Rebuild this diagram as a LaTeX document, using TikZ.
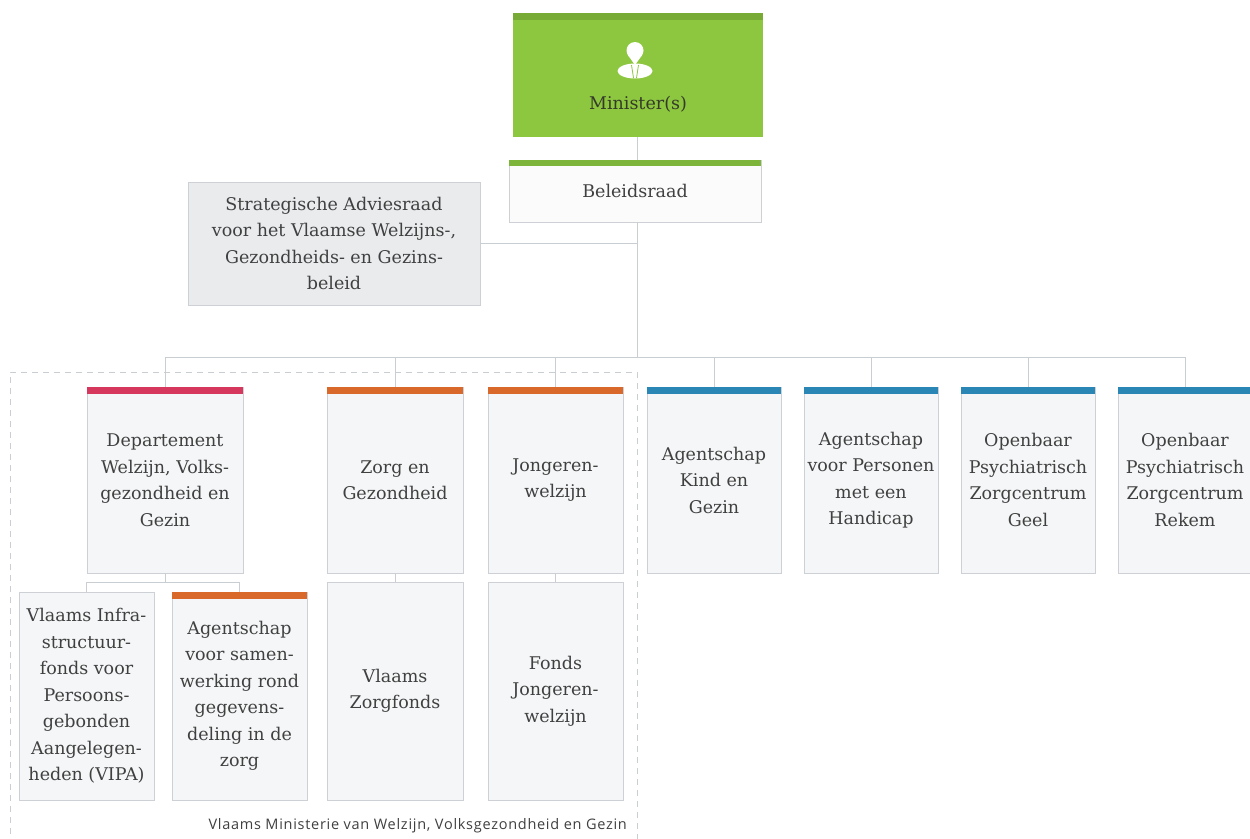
\documentclass[tikz,border=0pt]{standalone}
\usepackage{fontspec}
\setmainfont{DejaVu Serif}
\newfontfamily\footfont[LetterSpace=5]{Open Sans}
\usetikzlibrary{shadows}
\definecolor{mingreen}{HTML}{8DC63F}
\definecolor{mingreendark}{HTML}{78AA36}
\definecolor{belgreen}{HTML}{7DB43A}
\definecolor{barred}{HTML}{D6375D}
\definecolor{barorange}{HTML}{D9692A}
\definecolor{barblue}{HTML}{2A87B5}
\definecolor{boxfill}{HTML}{F5F6F7}
\definecolor{sarfill}{HTML}{E9EBED}
\definecolor{boxline}{HTML}{CDD1D5}
\definecolor{connline}{HTML}{C9CED3}
\definecolor{txt}{HTML}{404040}
\definecolor{mintxt}{HTML}{343B2A}
\tikzset{
  orgbox/.style={draw=boxline, fill=boxfill, line width=0.8pt, text=txt,
    font=\fontsize{17.5}{26.5}\selectfont, align=center, inner sep=0pt,
    drop shadow={shadow xshift=1.2pt, shadow yshift=-1.2pt, opacity=0.12}},
  conn/.style={draw=connline, line width=1pt},
}
\begin{document}
\begin{tikzpicture}[x=1pt,y=-1pt]
\useasboundingbox[fill=white] (0,0) rectangle (1250,838);

% dashed frame
\draw[connline, line width=1pt, dash pattern=on 6pt off 5pt] (10,845) -- (10,372) -- (637,372) -- (637,845);

% Minister
\node[fill=mingreen, minimum width=250pt, minimum height=124pt, inner sep=0pt] (min) at (638,75) {};
\fill[mingreendark] (min.north west) rectangle ([yshift=-7pt]min.north east);
\node[text=mintxt, font=\fontsize{17.5}{20}\selectfont] (mintext) at (638,104) {Minister(s)};
% icon
\fill[white] (635,50.5) circle (8.5);
\fill[white] (627.8,55) -- (642.2,55) -- (635,65) -- cycle;
\fill[white] (635,71) ellipse [x radius=17.5, y radius=7.5];
\draw[mingreen, line width=0.8pt] (631.5,65) -- (633.5,78) (638.5,65) -- (636.5,78);

% Beleidsraad
\node[orgbox, fill=white!60!boxfill, minimum width=252pt, minimum height=62pt] (bel) at (635,191) {Beleidsraad};
\fill[belgreen] (bel.north west) rectangle ([yshift=-6pt]bel.north east);

% Strategische Adviesraad
\node[orgbox, fill=sarfill, minimum width=292pt, minimum height=123pt] (sar) at (334,243.5)
  {Strategische Adviesraad\\voor het Vlaamse Welzijns-,\\Gezondheids- en Gezins-\\beleid};

% top level row
\node[orgbox, minimum width=156pt, minimum height=186pt] (dep) at (165,480)
  {Departement\\Welzijn, Volks-\\gezondheid en\\Gezin};
\node[orgbox, minimum width=136pt, minimum height=186pt] (zg) at (395,480)
  {Zorg en\\Gezondheid};
\node[orgbox, minimum width=135pt, minimum height=186pt] (jw) at (555.5,480)
  {Jongeren-\\welzijn};
\node[orgbox, minimum width=134pt, minimum height=186pt] (akg) at (714,480)
  {Agentschap\\Kind en\\Gezin};
\node[orgbox, minimum width=134pt, minimum height=186pt] (avph) at (871,480)
  {Agentschap\\voor Personen\\met een\\Handicap};
\node[orgbox, minimum width=134pt, minimum height=186pt] (opzg) at (1028,480)
  {Openbaar\\Psychiatrisch\\Zorgcentrum\\Geel};
\node[orgbox, minimum width=134pt, minimum height=186pt] (opzr) at (1185,480)
  {Openbaar\\Psychiatrisch\\Zorgcentrum\\Rekem};

\fill[barred] (dep.north west) rectangle ([yshift=-7pt]dep.north east);
\foreach \n in {zg,jw}{\fill[barorange] (\n.north west) rectangle ([yshift=-7pt]\n.north east);}
\foreach \n in {akg,avph,opzg,opzr}{\fill[barblue] (\n.north west) rectangle ([yshift=-7pt]\n.north east);}

% second level
\node[orgbox, minimum width=135pt, minimum height=208pt] (vipa) at (86.5,696)
  {Vlaams Infra-\\structuur-\\fonds voor\\Persoons-\\gebonden\\Aangelegen-\\heden (VIPA)};
\node[orgbox, minimum width=135pt, minimum height=208pt] (ags) at (239.5,696)
  {Agentschap\\voor samen-\\werking rond\\gegevens-\\deling in de\\zorg};
\fill[barorange] (ags.north west) rectangle ([yshift=-7pt]ags.north east);
\node[orgbox, minimum width=136pt, minimum height=218pt] (vzf) at (395,691)
  {Vlaams\\Zorgfonds};
\node[orgbox, minimum width=135pt, minimum height=218pt] (fjw) at (555.5,691)
  {Fonds\\Jongeren-\\welzijn};

% connectors
\coordinate (hub) at (637,357);
\coordinate (sub) at (165,582);
\draw[conn] (min.south -| hub) -- (bel.north -| hub);
\draw[conn] (bel.south -| hub) -- (hub);
\draw[conn] (sar.east) -- (sar.east -| hub);
\draw[conn] (dep.north |- hub) -- (opzr.north |- hub);
\foreach \n in {dep,zg,jw,akg,avph,opzg,opzr}{\draw[conn] (\n.north |- hub) -- (\n.north);}
\draw[conn] (dep.south) -- (sub);
\draw[conn] (vipa.north |- sub) -- (ags.north |- sub);
\draw[conn] (vipa.north |- sub) -- (vipa.north);
\draw[conn] (ags.north |- sub) -- (ags.north);
\draw[conn] (zg.south) -- (vzf.north);
\draw[conn] (jw.south) -- (fjw.north);

% footer
\node[anchor=east, text=txt, font=\footfont\fontsize{14.5}{17}\selectfont, inner sep=0pt] (foot) at (627,826)
  {Vlaams Ministerie van Welzijn, Volksgezondheid en Gezin};
\end{tikzpicture}
\end{document}
